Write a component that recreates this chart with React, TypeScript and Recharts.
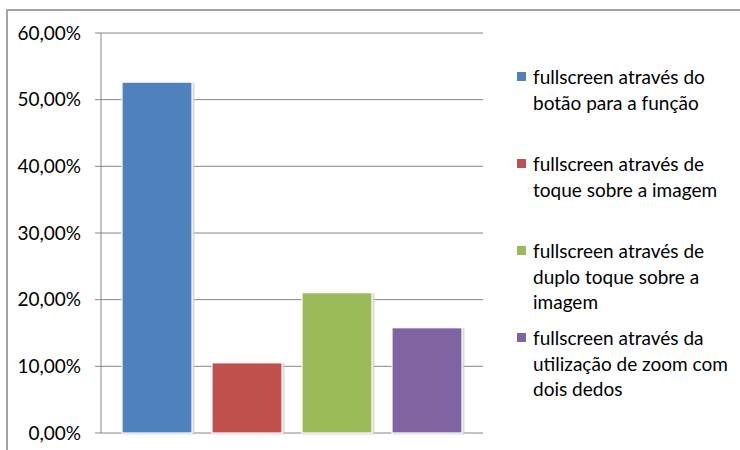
import React from 'react';
import { BarChart, Bar, XAxis, YAxis, CartesianGrid, Legend } from 'recharts';

// Share of each fullscreen activation method
const seriesKeys = ['botao', 'toque', 'duploToque', 'zoom'];
const seriesValues = [0.5263, 0.1053, 0.2105, 0.1579];
const seriesColors = ['#4F81BD', '#C0504D', '#9BBB59', '#8064A2'];
const seriesLabels = [
  'fullscreen através do\nbotão para a função',
  'fullscreen através de\ntoque sobre a imagem',
  'fullscreen através de\nduplo toque sobre a\nimagem',
  'fullscreen através da\nutilização de zoom com\ndois dedos',
];
const categories = ['Modo fullscreen'];
const yTicks = [0, 0.1, 0.2, 0.3, 0.4, 0.5, 0.6];

const data = categories.map((name) => {
  const row: Record<string, string | number> = { name };
  seriesKeys.forEach((k, i) => {
    row[k] = seriesValues[i];
  });
  return row;
});

const FONT = 'Lato, "Open Sans", sans-serif';
const FONT_SIZE = 19;
const AXIS_GRAY = '#868686';

const formatPercent = (v: number) =>
  (v * 100).toFixed(2).replace('.', ',') + '%';

// Bar with a thin white edge and a soft gray shadow
const ShadowBar = (props: any) => {
  const { x, y, width, height, fill } = props;
  if (width == null || height == null || height <= 0) return null;
  return (
    <g>
      <rect x={x + 0.5} y={y + 0.5} width={width + 2} height={height + 1} fill="#cfcfcf" opacity={0.8} />
      <rect x={x} y={y} width={width} height={height} fill={fill} stroke="#ffffff" strokeWidth={1.2} />
    </g>
  );
};

// Legend entries listed in series order, each with wrapped label lines
const LegendContent = (props: any) => {
  const payload = [...(props.payload || [])].sort(
    (a: any, b: any) => seriesKeys.indexOf(a.dataKey) - seriesKeys.indexOf(b.dataKey)
  );
  return (
    <div style={{ fontFamily: FONT, fontSize: FONT_SIZE, color: '#000' }}>
      {payload.map((entry: any, i: number) => (
        <div key={i} style={{ position: 'relative', height: 87 }}>
          <span
            style={{
              position: 'absolute',
              left: 1,
              top: 8,
              width: 9,
              height: 9,
              background: entry.color,
            }}
          />
          <div
            style={{
              position: 'absolute',
              left: 17,
              top: 0,
              whiteSpace: 'pre',
              lineHeight: '25.7px',
            }}
          >
            {entry.value}
          </div>
        </div>
      ))}
    </div>
  );
};

export default function App() {
  return (
    <div
      style={{
        position: 'absolute',
        left: 0,
        top: 0,
        width: 740,
        height: 450,
        overflow: 'hidden',
        background: '#ffffff',
      }}
    >
      <div
        style={{
          position: 'absolute',
          left: 6,
          top: 9,
          width: 800,
          height: 500,
          borderLeft: '2px solid #a3a3a3',
          borderTop: '2px solid #a3a3a3',
        }}
      />
      <div style={{ position: 'absolute', left: 0, top: 0 }}>
        <BarChart
          width={740}
          height={450}
          data={data}
          margin={{ top: 33, right: 257, bottom: 17, left: 0 }}
          barSize={70}
          barGap={20}
        >
          <CartesianGrid vertical={false} stroke={AXIS_GRAY} strokeWidth={1} />
          <XAxis dataKey="name" hide />
          <YAxis
            width={101}
            domain={[0, 0.6]}
            ticks={yTicks}
            tickFormatter={formatPercent}
            interval={0}
            tickSize={6}
            tickMargin={14}
            axisLine={{ stroke: AXIS_GRAY }}
            tickLine={{ stroke: AXIS_GRAY }}
            tick={{ fill: '#000', fontSize: FONT_SIZE, fontFamily: FONT }}
          />
          <Legend
            layout="vertical"
            align="center"
            verticalAlign="middle"
            width={224}
            wrapperStyle={{ left: 516, top: 64, width: 224 }}
            content={<LegendContent />}
          />
          {seriesKeys.map((k, i) => (
            <Bar
              key={k}
              dataKey={k}
              name={seriesLabels[i]}
              fill={seriesColors[i]}
              shape={<ShadowBar />}
              isAnimationActive={false}
            />
          ))}
        </BarChart>
      </div>
    </div>
  );
}
